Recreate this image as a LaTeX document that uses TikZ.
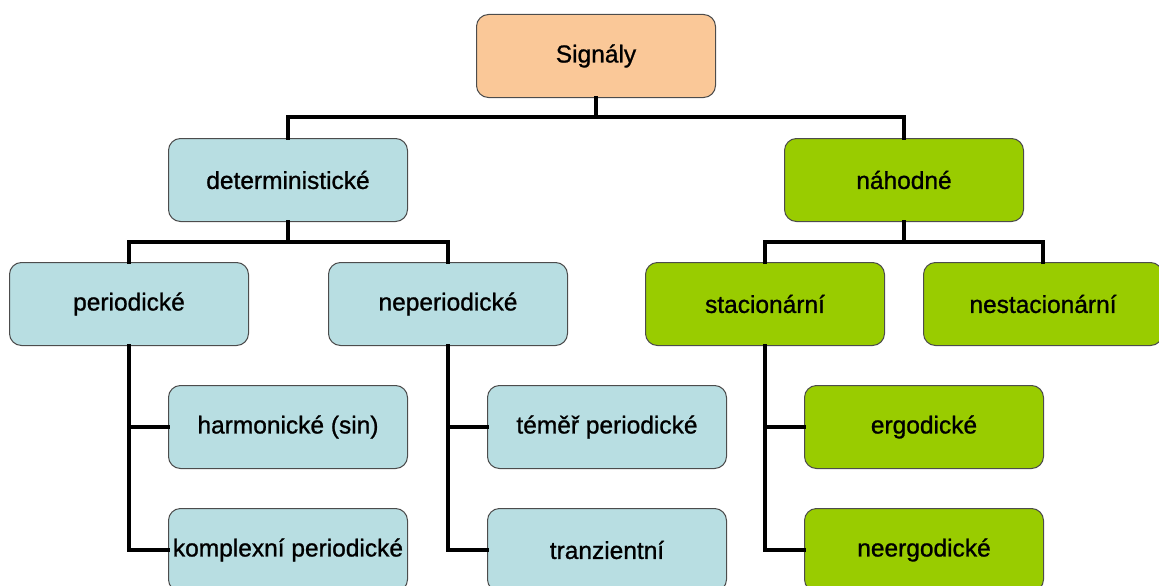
\documentclass[tikz,border=0pt]{standalone}
\usepackage{fontspec}
\setmainfont{Liberation Sans}
\newfontfamily\boxfont[FakeBold=1]{Liberation Sans}
\usetikzlibrary{positioning,calc}
\definecolor{peach}{HTML}{FAC898}
\definecolor{lblue}{HTML}{B8DEE2}
\definecolor{lgreen}{HTML}{99CC00}
\tikzset{box/.style={draw=black!70,line width=1pt,rounded corners=12pt,minimum width=239pt,minimum height=83pt,inner sep=0pt,text=black,font=\boxfont\fontsize{24.5}{28}\selectfont},
  blu/.style={box,fill=lblue},grn/.style={box,fill=lgreen},
  conn/.style={line width=3.4pt,line cap=rect}}

\begin{document}
\begin{tikzpicture}[x=1pt,y=-1pt]
          \useasboundingbox (0,0) rectangle (1159,586);

          % top
          \node (sig) [box,fill=peach] at (596,56) {Signály};
          \node (det) [blu] at (288,180) {deterministické};
          \node (nah) [grn] at (904,180) {náhodné};

          % second row
          \node (per) [blu] at (129,304) {periodické};
          \node (nep) [blu] at (448,304) {neperiodické};
          \node (sta) [grn] at (765,304) {stacionární};
          \node (nes) [grn] at (1043,304) {nestacionární};

          % leaves
          \node (har) [blu] at (288,427) {harmonické (sin)};
          \node (kom) [blu] at (288,550) {komplexní periodické};
          \node (tem) [blu] at (607,427) {téměř periodické};
          \node (tra) [blu] at (607,550) {tranzientní};
          \node (erg) [grn] at (924,427) {ergodické};
          \node (neg) [grn] at (924,550) {neergodické};

          % tree lines
          \draw[conn] (sig) -- ++(0,61) coordinate (j0) (j0) -| (det) (j0) -| (nah);
          \draw[conn] (det) -- ++(0,62) coordinate (j1) (j1) -| (per) (j1) -| (nep);
          \draw[conn] (nah) -- ++(0,62) coordinate (j2) (j2) -| (sta) (j2) -| (nes);

          \draw[conn] (per) |- (har) (per) |- (kom);
          \draw[conn] (nep) |- (tem) (nep) |- (tra);
          \draw[conn] (sta) |- (erg) (sta) |- (neg);

        \end{tikzpicture}
\end{document}
